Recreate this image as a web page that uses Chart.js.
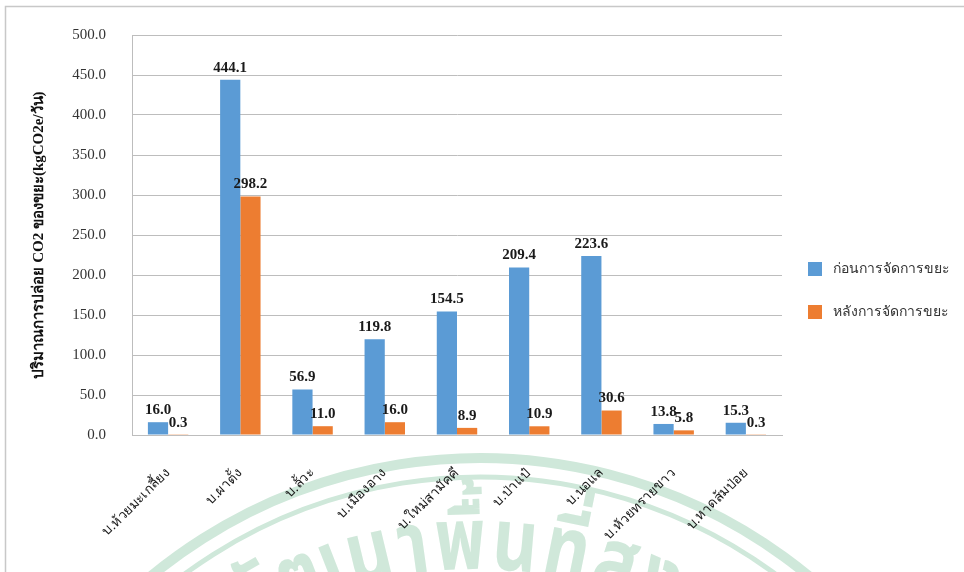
<!DOCTYPE html>
<html>
<head>
<meta charset="utf-8">
<script src="https://cdn.jsdelivr.net/npm/chart.js@4.4.1/dist/chart.umd.min.js"></script>
<style>
  html, body { margin: 0; padding: 0; background: #fff; }
</style>
</head>
<body>
<canvas id="co2" width="964" height="572"></canvas>
<script>
// villages and CO2 from waste, kgCO2e per day
const villages = [
  'บ.ห้วยมะเกลี้ยง', 'บ.ผาตั้ง', 'บ.ลั้วะ', 'บ.เมืองอาง', 'บ.ใหม่สามัคคี',
  'บ.ป่าแป๋', 'บ.นอแล', 'บ.ห้วยทรายขาว', 'บ.หาดส้มป่อย'
];
const beforeMgmt = [16.0, 444.1, 56.9, 119.8, 154.5, 209.4, 223.6, 13.8, 15.3];
const afterMgmt = [0.3, 298.2, 11.0, 16.0, 8.9, 10.9, 30.6, 5.8, 0.3];
const seriesNames = ['ก่อนการจัดการขยะ', 'หลังการจัดการขยะ'];
const yTitle = 'ปริมาณการปล่อย CO2 ของขยะ(kgCO2e/วัน)';
const watermarkText = 'พัฒนาพื้นที่สูง (';

const BLUE = '#5b9bd5';
const ORANGE = '#ed7d31';
const SERIF = "'Liberation Serif', 'Times New Roman', serif";
const GRID = '#bdbdbd';


// background: page frame and the faint green stamp behind the plot
const pageFrame = {
  id: 'pageFrame',
  beforeDraw(chart) {
    const ctx = chart.ctx;
    ctx.save();
    ctx.fillStyle = '#fff';
    ctx.fillRect(0, 0, chart.width, chart.height);

    const cx = 480, cy = 975;
    ctx.strokeStyle = '#cfe8da';
    ctx.lineWidth = 10;
    ctx.beginPath();
    ctx.arc(cx, cy, 517, Math.PI * 1.2, Math.PI * 1.8);
    ctx.stroke();
    ctx.lineWidth = 5;
    ctx.beginPath();
    ctx.arc(cx, cy, 498, Math.PI * 1.2, Math.PI * 1.8);
    ctx.stroke();

    // stamp text bent along its own arc, one grapheme at a time
    const tcx = 476, tcy = 1001, r = 432, spacing = 4;
    ctx.fillStyle = '#d0e8da';
    ctx.font = "bold 70px 'Noto Sans Thai', 'Noto Sans', sans-serif";
    ctx.textAlign = 'center';
    ctx.textBaseline = 'alphabetic';
    const seg = new Intl.Segmenter('th', { granularity: 'grapheme' });
    const parts = Array.from(seg.segment(watermarkText), s => s.segment);
    const widths = parts.map(p => ctx.measureText(p).width + spacing);
    const total = widths.reduce((a, b) => a + b, 0);
    let acc = 0;
    parts.forEach((p, i) => {
      const ang = (acc + widths[i] / 2 - total / 2) / r;
      acc += widths[i];
      ctx.save();
      ctx.translate(tcx + r * Math.sin(ang), tcy - r * Math.cos(ang));
      ctx.rotate(ang);
      ctx.scale(1, 1.25);
      ctx.fillText(p, 0, 0);
      ctx.restore();
    });

    ctx.strokeStyle = '#c8c8c8';
    ctx.lineWidth = 1.5;
    ctx.beginPath();
    ctx.moveTo(5.5, chart.height);
    ctx.lineTo(5.5, 6.5);
    ctx.lineTo(chart.width, 6.5);
    ctx.stroke();
    ctx.restore();
  }
};

// value printed above every bar
const valueLabels = {
  id: 'valueLabels',
  afterDatasetsDraw(chart) {
    const ctx = chart.ctx;
    ctx.save();
    ctx.font = 'bold 15px ' + SERIF;
    ctx.fillStyle = '#1a1a1a';
    ctx.textAlign = 'center';
    ctx.textBaseline = 'middle';
    chart.data.datasets.forEach((ds, di) => {
      chart.getDatasetMeta(di).data.forEach((bar, i) => {
        ctx.fillText(ds.data[i].toFixed(1), bar.x, bar.y - 12);
      });
    });
    ctx.restore();
  }
};

// legend stacked on the right side
const sideLegend = {
  id: 'sideLegend',
  afterDraw(chart) {
    const ctx = chart.ctx;
    const area = chart.chartArea;
    ctx.save();
    ctx.font = '14px ' + SERIF;
    ctx.textAlign = 'left';
    ctx.textBaseline = 'middle';
    chart.data.datasets.forEach((ds, i) => {
      const y = area.top + 234 + i * 43;
      ctx.fillStyle = ds.backgroundColor;
      ctx.fillRect(area.right + 26, y - 7, 14, 14);
      ctx.fillStyle = '#333';
      ctx.fillText(ds.label, area.right + 51, y);
    });
    ctx.restore();
  }
};


const chart = new Chart(document.getElementById('co2').getContext('2d'), {
  type: 'bar',
  data: {
    labels: villages,
    datasets: [
      { label: seriesNames[0], data: beforeMgmt, backgroundColor: BLUE },
      { label: seriesNames[1], data: afterMgmt, backgroundColor: ORANGE }
    ]
  },
  options: {
    responsive: false,
    animation: false,
    layout: { padding: { top: 30, right: 182, bottom: 0, left: 0 } },
    datasets: { bar: { barPercentage: 1, categoryPercentage: 0.56 } },
    plugins: {
      legend: { display: false },
      tooltip: { enabled: false }
    },
    scales: {
      x: {
        grid: { display: false, drawTicks: false },
        border: { display: true, color: GRID, width: 1 },
        ticks: {
          autoSkip: false,
          minRotation: 45,
          maxRotation: 45,
          padding: 30,
          color: '#1a1a1a',
          font: { family: SERIF, size: 13.5 }
        },
        afterFit(scale) { scale.height = 137; }
      },
      y: {
        min: 0,
        max: 500,
        grid: { color: GRID, lineWidth: 1, drawTicks: false },
        border: { display: true, color: GRID, width: 1 },
        ticks: {
          stepSize: 50,
          padding: 26,
          color: '#333',
          font: { family: SERIF, size: 15 },
          callback: v => v.toFixed(1)
        },
        title: {
          display: true,
          text: yTitle,
          color: '#111',
          padding: { top: 30, bottom: 0 },
          font: { family: SERIF, size: 15, weight: 'bold' }
        },
        afterFit(scale) { scale.width = 132; }
      }
    }
  },
  plugins: [pageFrame, valueLabels, sideLegend]
});
</script>
</body>
</html>
